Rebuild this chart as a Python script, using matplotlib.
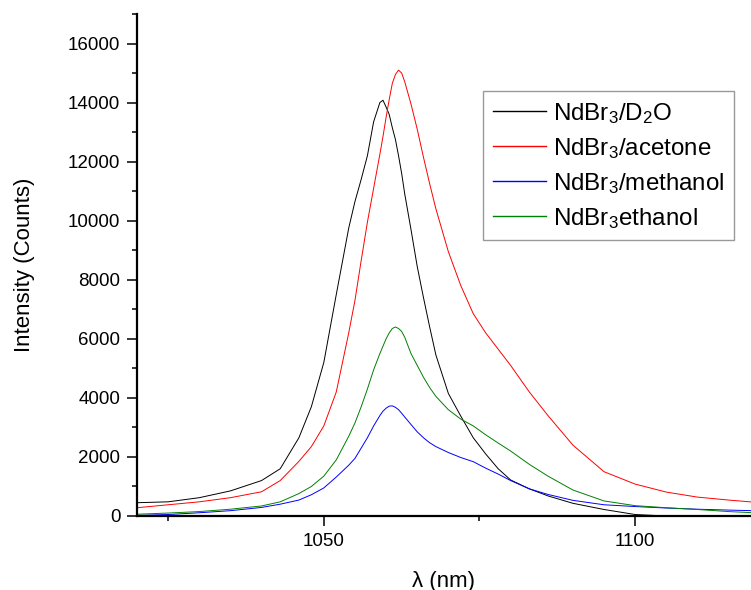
#%% 1 imports and style
import matplotlib
matplotlib.use("Agg")
import matplotlib.pyplot as plt
from matplotlib import rcParams
from matplotlib.ticker import MultipleLocator

rcParams['font.family'] = ['Liberation Sans', 'DejaVu Sans']
rcParams['mathtext.fontset'] = 'custom'
rcParams['mathtext.rm'] = 'Liberation Sans'
rcParams['mathtext.it'] = 'Liberation Sans:italic'
rcParams['axes.unicode_minus'] = False

# wavelength grid (nm) and intensities
wavelength = [1020, 1025, 1030, 1035, 1040, 1043, 1046, 1048, 1050, 1052,
              1054, 1055, 1056, 1057, 1058, 1059, 1059.5, 1060, 1060.5, 1061,
              1061.5, 1062, 1062.5, 1063, 1064, 1065, 1066, 1067, 1068, 1070,
              1072, 1074, 1076, 1078, 1080, 1083, 1086, 1090, 1095, 1100,
              1105, 1110, 1115, 1119]

d2o = [450, 480, 620, 850, 1200, 1600, 2650, 3700, 5200, 7500,
       9750, 10650, 11400, 12200, 13350, 14000, 14080, 13850, 13600, 13150,
       12750, 12200, 11600, 10900, 9700, 8450, 7400, 6400, 5450, 4150,
       3380, 2650, 2100, 1600, 1220, 920, 680, 430, 220, 50,
       0, 0, 0, 0]

acetone = [280, 380, 480, 620, 820, 1200, 1850, 2350, 3050, 4200,
           6200, 7300, 8650, 9950, 11100, 12250, 12850, 13500, 14100, 14650,
           14950, 15100, 15000, 14700, 13950, 13100, 12150, 11250, 10400, 8950,
           7800, 6850, 6200, 5650, 5100, 4200, 3400, 2400, 1500, 1080,
           810, 640, 540, 470]

methanol = [20, 50, 110, 180, 290, 400, 540, 720, 950, 1320,
            1720, 1950, 2300, 2650, 3050, 3400, 3550, 3650, 3720, 3730,
            3680, 3600, 3480, 3350, 3100, 2850, 2650, 2480, 2350, 2150,
            1980, 1840, 1620, 1420, 1200, 920, 730, 530, 380, 320,
            270, 230, 200, 180]

ethanol = [60, 100, 150, 230, 340, 480, 760, 1000, 1350, 1900,
           2700, 3150, 3700, 4300, 4950, 5500, 5750, 6000, 6200, 6350,
           6400, 6350, 6250, 6050, 5500, 5100, 4700, 4350, 4050, 3600,
           3280, 3050, 2750, 2470, 2200, 1750, 1350, 880, 510, 350,
           280, 220, 150, 110]

labels = [r'NdBr$_\mathregular{3}$/D$_\mathregular{2}$O',
          r'NdBr$_\mathregular{3}$/acetone',
          r'NdBr$_\mathregular{3}$/methanol',
          r'NdBr$_\mathregular{3}$ethanol']
colors = ['black', 'red', 'blue', 'green']

#%% 2 figure
fig = plt.figure(figsize=(7.51, 5.90), dpi=100)
ax = fig.add_axes([137/751, 74/590, 614/751, 502/590])

for ys, lab, c in zip([d2o, acetone, methanol, ethanol], labels, colors):
    ax.plot(wavelength, ys, color=c, lw=0.7, label=lab)

ax.set_xlim(1020, 1118.6)
ax.set_ylim(0, 17000)

ax.xaxis.set_major_locator(MultipleLocator(50))
ax.xaxis.set_minor_locator(MultipleLocator(25))
ax.yaxis.set_major_locator(MultipleLocator(2000))
ax.yaxis.set_minor_locator(MultipleLocator(1000))

ax.spines[['top', 'right']].set_visible(False)
ax.spines[['left', 'bottom']].set_linewidth(1.6)
ax.tick_params(which='major', direction='out', length=7, width=1.1, labelsize=13.5, pad=5)
ax.tick_params(which='minor', direction='out', length=3.8, width=1.1)

ax.set_xlabel('λ (nm)', fontsize=16, labelpad=15)
ax.set_ylabel('Intensity (Counts)', fontsize=16, labelpad=24)

#%% 3 legend
leg = ax.legend(loc='upper left', bbox_to_anchor=(483/751, 1 - 91/590),
                bbox_transform=fig.transFigure, fontsize=17.4, frameon=True,
                fancybox=False, handlelength=2.2, handletextpad=0.3,
                labelspacing=0.42, borderpad=0.4, borderaxespad=0)
leg.get_frame().set_edgecolor('#808080')
leg.get_frame().set_linewidth(1.0)
for line in leg.get_lines():
    line.set_linewidth(1.0)

#%% 4 save
fig.savefig('out.png', dpi=100)
